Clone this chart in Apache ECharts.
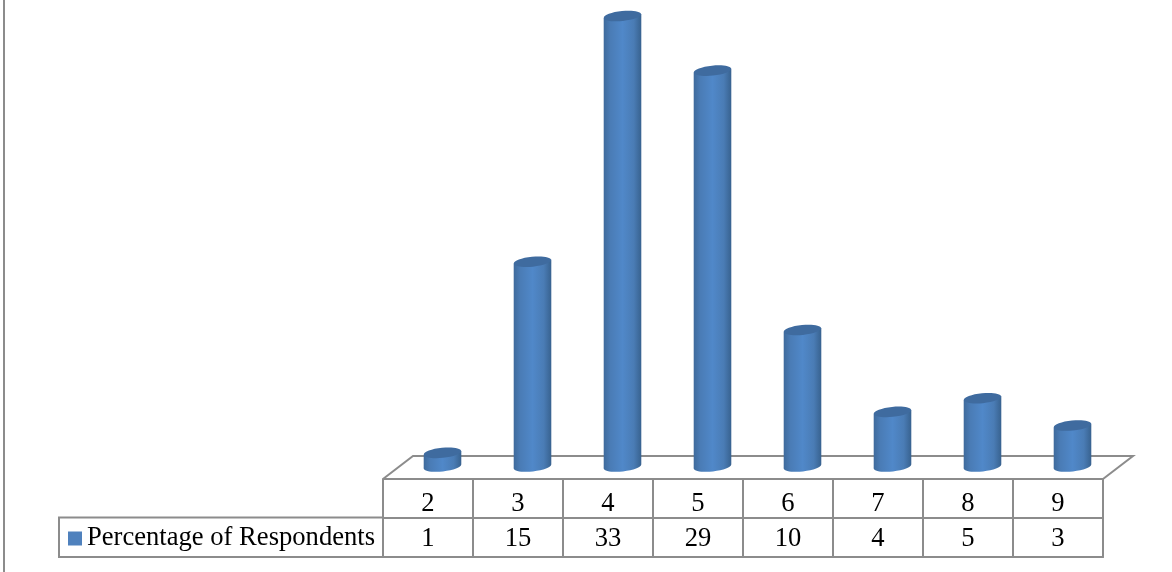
<!DOCTYPE html>
<html>
	<head>
		<meta charset="UTF-8">
		<title>Percentage of Respondents</title>
		<script src="https://cdn.jsdelivr.net/npm/echarts@6/dist/echarts.min.js"></script>
		<style>
			html, body { margin: 0; padding: 0; background: #fff; }
			#chart { width: 1172px; height: 572px; }
		</style>
	</head>
	<body>
		<div id="chart"></div>
		<script type="text/javascript">
			var seriesName = 'Percentage of Respondents';
			var categories = ['2', '3', '4', '5', '6', '7', '8', '9'];
			var respondents = [1, 15, 33, 29, 10, 4, 5, 3];

			var lineColor = '#8c8c8c';
			var textFont = { fontFamily: 'Liberation Serif', fontSize: 26.6, color: '#000' };
			var tilt = 0.1;	// 圆柱顶面略微倾斜

			function cylinder(params, api) {
				var pos = api.coord([api.value(0), api.value(1)]);
				var base = api.coord([api.value(0), 0]);
				var rx = 18.8, ry = 5;
				var dy = rx * tilt;
				var body = new echarts.graphic.LinearGradient(0, 0, 1, 0, [
					{ offset: 0, color: '#3e6a9c' },
					{ offset: 0.18, color: '#4a7cb6' },
					{ offset: 0.5, color: '#5088c9' },
					{ offset: 0.8, color: '#4a7cb5' },
					{ offset: 1, color: '#38628f' }
				]);
				return {
					type: 'group',
					children: [
						{
							type: 'ellipse',
							x: pos[0], y: base[1], originX: 0, originY: 0, rotation: tilt,
							shape: { cx: 0, cy: 0, rx: rx, ry: ry },
							style: { fill: body }
						},
						{
							type: 'polygon',
							shape: { points: [
								[pos[0] - rx, pos[1] + dy],
								[pos[0] + rx, pos[1] - dy],
								[pos[0] + rx, base[1] - dy],
								[pos[0] - rx, base[1] + dy]
							] },
							style: { fill: body }
						},
						{
							type: 'ellipse',
							x: pos[0], y: pos[1], originX: 0, originY: 0, rotation: tilt,
							shape: { cx: 0, cy: 0, rx: rx, ry: ry },
							style: { fill: '#3f6b9f' }
						}
					]
				};
			}

			var myChart = echarts.init(document.getElementById('chart'));
			var option = {
				animation: false,
				backgroundColor: '#fff',
				legend: {
					left: 63,
					top: 520,
					icon: 'rect',
					itemWidth: 14,
					itemHeight: 14,
					itemGap: 6,
					data: [seriesName],
					textStyle: textFont
				},
				grid: [
					{ left: 397.5, top: 16, width: 720, height: 450.5 },
					{ left: 383, top: 479, width: 720, height: 78 }
				],
				xAxis: [
					{ gridIndex: 0, type: 'category', data: categories, show: false },
					{
						gridIndex: 1, type: 'category', data: categories, position: 'top',
						axisLine: { show: true, lineStyle: { color: lineColor, width: 2 } },
						axisTick: { show: false },
						splitLine: { show: true, lineStyle: { color: lineColor, width: 2 } },
						axisLabel: Object.assign({ inside: true, margin: 12, interval: 0 }, textFont)
					},
					{
						gridIndex: 1, type: 'category', data: respondents.map(String), position: 'bottom',
						axisLine: { show: true, lineStyle: { color: lineColor, width: 2 } },
						axisTick: { show: false },
						axisLabel: Object.assign({ inside: true, margin: 4, interval: 0 }, textFont)
					}
				],
				yAxis: [
					{ gridIndex: 0, type: 'value', min: 0, max: 33, show: false },
					{
						gridIndex: 1, type: 'value', min: 0, max: 2, interval: 1,
						axisLabel: { show: false },
						axisTick: { show: false },
						axisLine: { show: true, lineStyle: { color: lineColor, width: 2 } },
						splitLine: { show: true, lineStyle: { color: lineColor, width: 2 } }
					}
				],
				graphic: [
					// 底面和左侧边框
					{ type: 'polyline', z: 0, shape: { points: [[383, 479], [413, 456], [1133, 456], [1103, 479]] }, style: { fill: null, stroke: lineColor, lineWidth: 2 } },
					{ type: 'polyline', z: 0, shape: { points: [[383, 517.5], [59, 517.5], [59, 557], [383, 557]] }, style: { fill: null, stroke: lineColor, lineWidth: 2 } },
					{ type: 'line', z: 0, shape: { x1: 4, y1: 0, x2: 4, y2: 572 }, style: { stroke: lineColor, lineWidth: 2 } }
				],
				series: [
					{
						name: seriesName,
						type: 'custom',
						xAxisIndex: 0,
						yAxisIndex: 0,
						itemStyle: { color: '#4f81bd' },
						renderItem: cylinder,
						encode: { x: 0, y: 1 },
						clip: false,
						z: 5,
						data: respondents.map(function (v, i) { return [i, v]; })
					}
				]
			};
			myChart.setOption(option);
		</script>
	</body>
</html>
